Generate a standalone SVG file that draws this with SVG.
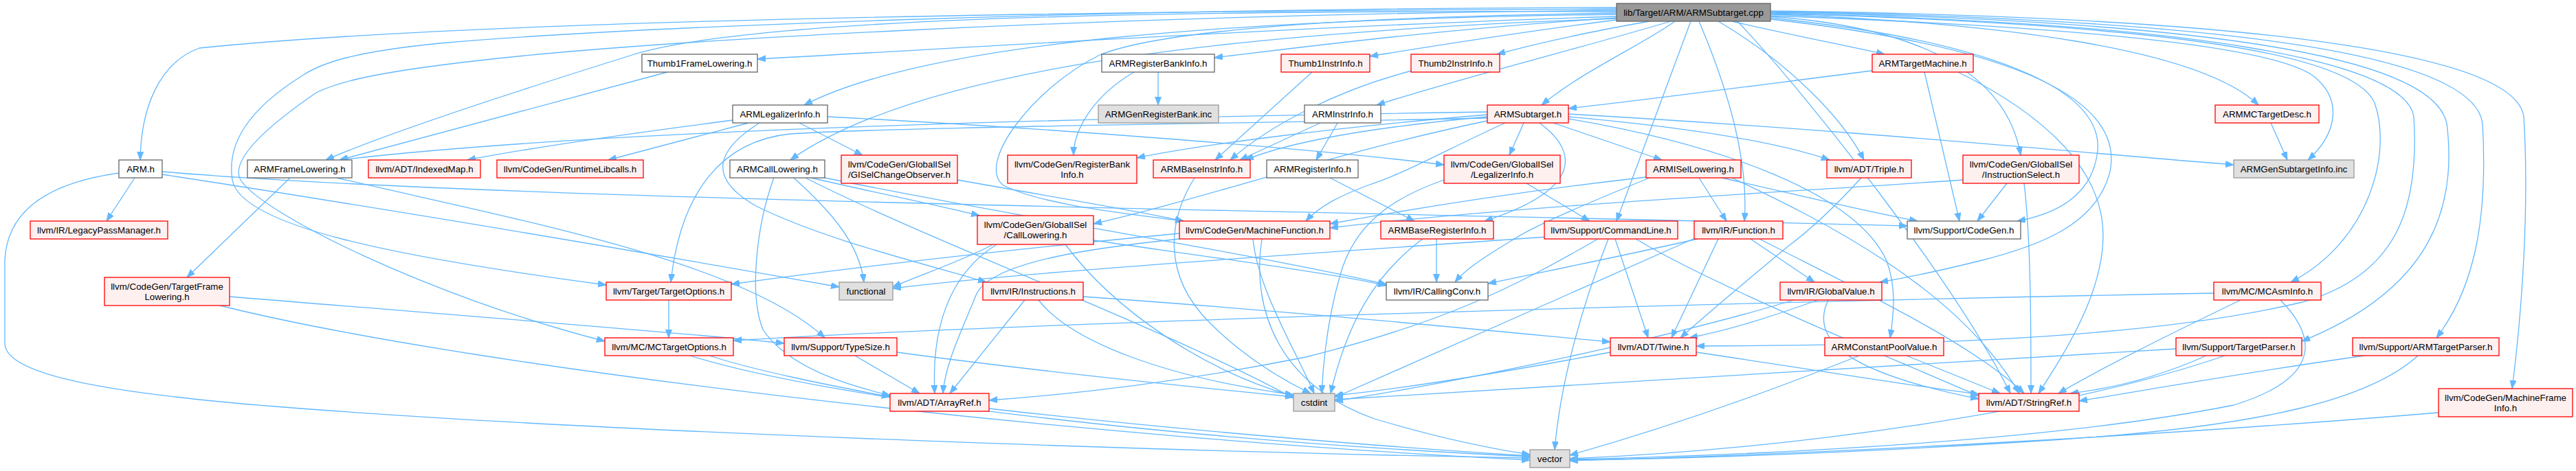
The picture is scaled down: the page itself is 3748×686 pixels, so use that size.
<svg xmlns="http://www.w3.org/2000/svg" width="3748" height="686" viewBox="0 0 3748 686">
<defs>
<style>
text{font-family:"Liberation Sans",Arial,Helvetica,sans-serif;font-size:13.33px;text-anchor:middle;fill:#000}
.w{fill:#fff;stroke:#666;stroke-width:1.3}
.r{fill:#fff0f0;stroke:#ff0000;stroke-width:1.3}
.g{fill:#e0e0e0;stroke:#999;stroke-width:1.3}
.m{fill:#999;stroke:#666;stroke-width:1.3}
#edges path{fill:none;stroke:#63b8ff;stroke-width:1.3;marker-end:url(#ah)}
</style>
<marker id="ah" markerWidth="13" markerHeight="10" refX="12" refY="4.5" orient="auto" markerUnits="userSpaceOnUse"><path d="M0,0 L12,4.5 L0,9 z" fill="#63b8ff" stroke="#63b8ff" stroke-width="1"/></marker>
</defs>
<rect width="3748" height="686" fill="#fff"/>
<g id="edges">
<path d="M2352,13 C1600,16 700,28 290,70 C230,92 205,160 204,233"/>
<path d="M2352,24 C1900,38 1400,70 1102,86"/>
<path d="M2352,17 C1600,14 1080,30 920,80 C760,130 560,195 474,233"/>
<path d="M2352,21 C1800,28 1350,60 1170,153"/>
<path d="M2352,27 C1850,45 1350,90 1150,233"/>
<path d="M2352,26 C2100,42 1900,68 1767,84"/>
<path d="M2352,29 C2200,48 2080,68 1993,82"/>
<path d="M2400,31 C2320,45 2240,62 2178,79"/>
<path d="M2431,31 C2300,70 2120,115 2003,153"/>
<path d="M2437,31 C2390,65 2300,105 2243,153"/>
<path d="M2460,31 L2352,322"/>
<path d="M2472,31 C2510,120 2545,230 2538,322"/>
<path d="M2500,31 C2600,90 2680,170 2712,233"/>
<path d="M2520,31 C2600,50 2680,65 2742,79"/>
<path d="M2576,24 C2800,40 2920,110 2940,226"/>
<path d="M2576,21 C2900,32 3200,70 3286,153"/>
<path d="M2576,23 C3000,38 3300,65 3365,110 C3410,145 3400,195 3358,233"/>
<path d="M2576,19 C3100,35 3420,70 3455,150 C3480,220 3450,350 3333,411"/>
<path d="M2576,18 C3200,30 3540,80 3560,180 C3575,300 3540,420 3349,497"/>
<path d="M2576,17 C3250,28 3600,80 3612,180 C3620,320 3600,420 3545,492"/>
<path d="M2576,16 C3300,25 3660,80 3672,170 C3680,300 3670,450 3655,566"/>
<path d="M2576,26 C2900,60 3060,130 3052,220 C3045,280 3000,310 2935,322"/>
<path d="M2528,31 C2640,150 2850,420 2925,573"/>
<path d="M2576,20 C3200,32 3500,90 3512,170 C3520,300 3490,400 3350,440 C3100,500 2700,503 2468,504"/>
<path d="M2576,28 C2950,70 3090,150 3070,250 C3050,330 2960,360 2880,380 C2820,395 2770,405 2735,411"/>
<path d="M2352,15 C1600,22 900,60 640,95 C540,108 490,120 460,135 C380,190 335,235 350,262 C380,310 620,430 880,497"/>
<path d="M2352,11 C1600,12 900,40 640,63 C520,75 470,90 440,110 C360,160 330,210 338,262 C350,330 580,375 882,415"/>
<path d="M2352,19 C2000,24 1700,40 1600,80 C1500,130 1420,240 1460,270 C1520,300 1650,312 1722,322"/>
<path d="M196,259 L155,322"/>
<path d="M173,252 C80,265 10,300 7,380 L7,500 C7,545 150,572 400,592 C900,632 1800,660 2226,667"/>
<path d="M236,254 C600,310 950,370 1221,418"/>
<path d="M236,250 C700,290 1800,305 2775,329"/>
<path d="M422,259 L272,404"/>
<path d="M490,259 C750,320 1080,380 1200,492"/>
<path d="M334,432 C700,462 1000,485 1141,500"/>
<path d="M320,445 C700,540 1600,640 2226,670"/>
<path d="M971,105 L494,233"/>
<path d="M1066,175 C950,190 800,210 680,233"/>
<path d="M1089,179 L885,233"/>
<path d="M1163,179 L1255,226"/>
<path d="M1204,170 C1500,185 1900,215 2101,240"/>
<path d="M1105,179 C1040,220 1030,260 1100,300 C1200,350 1350,385 1435,411"/>
<path d="M1126,259 C1100,330 1090,430 1110,480 C1150,540 1250,565 1295,576"/>
<path d="M1155,259 C1200,300 1250,350 1257,411"/>
<path d="M1180,259 C1280,282 1360,298 1425,314"/>
<path d="M1195,258 C1500,320 1800,365 2017,414"/>
<path d="M1172,259 C1350,350 1700,480 1882,580"/>
<path d="M1393,262 C1550,290 1650,306 1722,322"/>
<path d="M1450,356 C1380,400 1355,480 1360,573"/>
<path d="M1445,356 C1400,380 1340,400 1299,418"/>
<path d="M1591,350 C1800,380 1950,400 2017,416"/>
<path d="M1550,356 C1620,450 1750,540 1882,577"/>
<path d="M1685,105 L1685,153"/>
<path d="M1650,105 C1590,140 1562,190 1562,226"/>
<path d="M1738,259 C1700,320 1690,400 1760,470 C1820,530 1880,560 1907,573"/>
<path d="M1909,105 L1768,233"/>
<path d="M2054,103 C1950,130 1850,180 1790,233"/>
<path d="M1921,179 L1804,233"/>
<path d="M1946,179 L1915,233"/>
<path d="M2164,170 C2000,185 1880,205 1812,233"/>
<path d="M1935,259 L2058,322"/>
<path d="M2217,179 L2196,226"/>
<path d="M2260,179 L2418,233"/>
<path d="M2240,179 C2295,220 2305,275 2160,322"/>
<path d="M2190,179 C2100,220 2050,250 1990,270 C1950,285 1920,300 1900,322"/>
<path d="M2164,176 C1950,220 1750,290 1591,326"/>
<path d="M2164,167 C1950,185 1750,210 1654,230"/>
<path d="M2164,163 C1700,170 900,185 494,233"/>
<path d="M2164,172 C1800,180 1300,185 1150,195 C1050,205 990,280 976,411"/>
<path d="M2282,170 C2450,185 2580,205 2662,233"/>
<path d="M2282,166 C2700,190 3000,220 3250,240"/>
<path d="M2282,173 C2500,210 2700,280 2745,380 C2760,420 2755,460 2750,492"/>
<path d="M2221,267 L2313,322"/>
<path d="M2101,262 C2020,290 1970,330 1950,400 C1930,470 1925,530 1923,573"/>
<path d="M2395,258 C2200,280 2050,305 1935,326"/>
<path d="M2472,259 L2512,322"/>
<path d="M2400,259 C2300,300 2230,330 2200,350 C2150,380 2130,395 2117,411"/>
<path d="M2505,259 C2600,280 2700,305 2790,322"/>
<path d="M2520,259 C2650,320 2850,420 2938,573"/>
<path d="M2350,348 L2398,492"/>
<path d="M2340,348 C2300,450 2270,560 2262,655"/>
<path d="M2325,348 C2200,420 2100,470 1900,520 C1700,560 1550,575 1439,583"/>
<path d="M2250,345 C1900,370 1500,395 1299,420"/>
<path d="M2380,348 C2500,420 2750,520 2879,577"/>
<path d="M2470,348 C2350,375 2250,395 2165,413"/>
<path d="M2500,348 L2432,492"/>
<path d="M2547,348 L2640,411"/>
<path d="M2560,348 C2700,420 2870,500 2945,573"/>
<path d="M2468,346 C2300,420 2100,510 1942,579"/>
<path d="M2645,437 C2580,460 2520,480 2458,492"/>
<path d="M2660,437 C2630,500 2700,545 2879,581"/>
<path d="M2610,437 C2400,500 2100,560 1942,584"/>
<path d="M2468,513 C2650,540 2800,565 2879,574"/>
<path d="M2343,513 C2200,540 2050,565 1942,576"/>
<path d="M2708,259 C2680,290 2640,330 2600,360 C2540,410 2480,460 2445,492"/>
<path d="M2774,518 L2910,573"/>
<path d="M2705,518 C2550,580 2400,630 2284,663"/>
<path d="M2724,103 C2550,125 2400,145 2282,158"/>
<path d="M2800,105 L2851,322"/>
<path d="M2849,105 C2980,170 3060,250 3060,343 C3060,430 3000,520 2966,573"/>
<path d="M2920,267 L2877,322"/>
<path d="M2945,267 C2955,350 2955,480 2955,573"/>
<path d="M2856,262 C2600,280 2200,300 1935,332"/>
<path d="M3221,427 C2500,440 1500,470 1067,496"/>
<path d="M3260,437 C3150,490 3050,540 2995,573"/>
<path d="M3318,437 C3370,490 3380,550 3250,590 C3000,640 2600,662 2284,669"/>
<path d="M3210,518 C3150,545 3080,565 3012,573"/>
<path d="M3237,518 C3000,600 2600,655 2284,668"/>
<path d="M3166,508 C2800,530 2300,560 1942,582"/>
<path d="M3440,518 C3250,545 3100,572 3025,584"/>
<path d="M3518,518 C3450,580 3300,620 3000,640 C2700,660 2450,668 2284,670"/>
<path d="M3548,601 C3200,630 2700,660 2284,671"/>
<path d="M1716,348 C1600,360 1440,380 1420,430 C1400,480 1375,530 1372,573"/>
<path d="M1716,340 C1400,370 1200,395 1064,414"/>
<path d="M1823,348 C1830,420 1880,500 1912,573"/>
<path d="M1836,348 C1820,450 1860,560 2000,610 C2100,640 2180,655 2226,662"/>
<path d="M1491,437 L1382,573"/>
<path d="M1576,432 C1900,455 2150,480 2343,498"/>
<path d="M1511,437 C1560,500 1700,550 1882,575"/>
<path d="M1244,518 L1338,573"/>
<path d="M1305,513 C1500,540 1750,565 1882,578"/>
<path d="M1032,518 C1100,540 1200,560 1295,578"/>
<path d="M1004,518 C1200,580 1700,640 2226,665"/>
<path d="M973,437 L973,492"/>
<path d="M1439,595 C1700,625 2000,650 2226,664"/>
<path d="M2090,348 L2090,411"/>
<path d="M2070,348 C2000,400 1960,470 1936,573"/>
<path d="M3304,179 L3328,233"/>
</g>
<g id="n_main"><rect class="m" x="2352" y="5" width="224" height="26"/><text x="2464" y="22.5">lib/Target/ARM/ARMSubtarget.cpp</text></g>
<g id="n_thumb1fl"><rect class="w" x="934" y="79" width="168" height="26"/><text x="1018" y="96.5">Thumb1FrameLowering.h</text></g>
<g id="n_armrbi"><rect class="w" x="1603" y="79" width="164" height="26"/><text x="1685" y="96.5">ARMRegisterBankInfo.h</text></g>
<g id="n_thumb1ii"><rect class="r" x="1864" y="79" width="129" height="26"/><text x="1928.5" y="96.5">Thumb1InstrInfo.h</text></g>
<g id="n_thumb2ii"><rect class="r" x="2053" y="79" width="129" height="26"/><text x="2117.5" y="96.5">Thumb2InstrInfo.h</text></g>
<g id="n_armtm"><rect class="r" x="2724" y="79" width="147" height="26"/><text x="2797.5" y="96.5">ARMTargetMachine.h</text></g>
<g id="n_armli"><rect class="w" x="1066" y="153" width="138" height="26"/><text x="1135" y="170.5">ARMLegalizerInfo.h</text></g>
<g id="n_genrb"><rect class="g" x="1598" y="153" width="175" height="26"/><text x="1685.5" y="170.5">ARMGenRegisterBank.inc</text></g>
<g id="n_armii"><rect class="w" x="1898" y="153" width="111" height="26"/><text x="1953.5" y="170.5">ARMInstrInfo.h</text></g>
<g id="n_armst"><rect class="r" x="2164" y="153" width="118" height="26"/><text x="2223" y="170.5">ARMSubtarget.h</text></g>
<g id="n_mctd"><rect class="r" x="3223" y="153" width="151" height="26"/><text x="3298.5" y="170.5">ARMMCTargetDesc.h</text></g>
<g id="n_arm"><rect class="w" x="173" y="233" width="63" height="26"/><text x="204.5" y="250.5">ARM.h</text></g>
<g id="n_armfl"><rect class="w" x="360" y="233" width="152" height="26"/><text x="436" y="250.5">ARMFrameLowering.h</text></g>
<g id="n_imap"><rect class="r" x="536" y="233" width="163" height="26"/><text x="617.5" y="250.5">llvm/ADT/IndexedMap.h</text></g>
<g id="n_rtlib"><rect class="r" x="723" y="233" width="213" height="26"/><text x="829.5" y="250.5">llvm/CodeGen/RuntimeLibcalls.h</text></g>
<g id="n_armcl"><rect class="w" x="1062" y="233" width="138" height="26"/><text x="1131" y="250.5">ARMCallLowering.h</text></g>
<g id="n_gisco"><rect class="r" x="1224" y="226" width="169" height="41"/><text x="1308.5" y="243.5">llvm/CodeGen/GlobalISel</text><text x="1308.5" y="258.5">/GISelChangeObserver.h</text></g>
<g id="n_rbi"><rect class="r" x="1466" y="226" width="188" height="41"/><text x="1560" y="243.5">llvm/CodeGen/RegisterBank</text><text x="1560" y="258.5">Info.h</text></g>
<g id="n_armbii"><rect class="r" x="1678" y="233" width="141" height="26"/><text x="1748.5" y="250.5">ARMBaseInstrInfo.h</text></g>
<g id="n_armri"><rect class="w" x="1843" y="233" width="133" height="26"/><text x="1909.5" y="250.5">ARMRegisterInfo.h</text></g>
<g id="n_li"><rect class="r" x="2101" y="226" width="169" height="41"/><text x="2185.5" y="243.5">llvm/CodeGen/GlobalISel</text><text x="2185.5" y="258.5">/LegalizerInfo.h</text></g>
<g id="n_armisl"><rect class="r" x="2395" y="233" width="138" height="26"/><text x="2464" y="250.5">ARMISelLowering.h</text></g>
<g id="n_triple"><rect class="r" x="2658" y="233" width="123" height="26"/><text x="2719.5" y="250.5">llvm/ADT/Triple.h</text></g>
<g id="n_isel"><rect class="r" x="2856" y="226" width="169" height="41"/><text x="2940.5" y="243.5">llvm/CodeGen/GlobalISel</text><text x="2940.5" y="258.5">/InstructionSelect.h</text></g>
<g id="n_gensti"><rect class="g" x="3250" y="233" width="175" height="26"/><text x="3337.5" y="250.5">ARMGenSubtargetInfo.inc</text></g>
<g id="n_lpm"><rect class="r" x="44" y="322" width="200" height="26"/><text x="144" y="339.5">llvm/IR/LegacyPassManager.h</text></g>
<g id="n_cl"><rect class="r" x="1422" y="314" width="169" height="42"/><text x="1506.5" y="331.5">llvm/CodeGen/GlobalISel</text><text x="1506.5" y="346.5">/CallLowering.h</text></g>
<g id="n_mf"><rect class="r" x="1716" y="322" width="219" height="26"/><text x="1825.5" y="339.5">llvm/CodeGen/MachineFunction.h</text></g>
<g id="n_armbri"><rect class="r" x="2009" y="322" width="164" height="26"/><text x="2091" y="339.5">ARMBaseRegisterInfo.h</text></g>
<g id="n_cmdl"><rect class="r" x="2247" y="322" width="194" height="26"/><text x="2344" y="339.5">llvm/Support/CommandLine.h</text></g>
<g id="n_func"><rect class="r" x="2465" y="322" width="129" height="26"/><text x="2529.5" y="339.5">llvm/IR/Function.h</text></g>
<g id="n_cg"><rect class="w" x="2775" y="322" width="165" height="26"/><text x="2857.5" y="339.5">llvm/Support/CodeGen.h</text></g>
<g id="n_tfl"><rect class="r" x="152" y="404" width="182" height="41"/><text x="243" y="421.5">llvm/CodeGen/TargetFrame</text><text x="243" y="436.5">Lowering.h</text></g>
<g id="n_topt"><rect class="r" x="882" y="411" width="182" height="26"/><text x="973" y="428.5">llvm/Target/TargetOptions.h</text></g>
<g id="n_functional"><rect class="g" x="1221" y="411" width="78" height="26"/><text x="1260" y="428.5">functional</text></g>
<g id="n_instr"><rect class="r" x="1430" y="411" width="146" height="26"/><text x="1503" y="428.5">llvm/IR/Instructions.h</text></g>
<g id="n_cc"><rect class="w" x="2017" y="411" width="148" height="26"/><text x="2091" y="428.5">llvm/IR/CallingConv.h</text></g>
<g id="n_gv"><rect class="r" x="2590" y="411" width="148" height="26"/><text x="2664" y="428.5">llvm/IR/GlobalValue.h</text></g>
<g id="n_mcai"><rect class="r" x="3221" y="411" width="156" height="26"/><text x="3299" y="428.5">llvm/MC/MCAsmInfo.h</text></g>
<g id="n_mcto"><rect class="r" x="880" y="492" width="187" height="26"/><text x="973.5" y="509.5">llvm/MC/MCTargetOptions.h</text></g>
<g id="n_ts"><rect class="r" x="1141" y="492" width="164" height="26"/><text x="1223" y="509.5">llvm/Support/TypeSize.h</text></g>
<g id="n_twine"><rect class="r" x="2343" y="492" width="125" height="26"/><text x="2405.5" y="509.5">llvm/ADT/Twine.h</text></g>
<g id="n_cpv"><rect class="r" x="2655" y="492" width="173" height="26"/><text x="2741.5" y="509.5">ARMConstantPoolValue.h</text></g>
<g id="n_tp"><rect class="r" x="3166" y="492" width="183" height="26"/><text x="3257.5" y="509.5">llvm/Support/TargetParser.h</text></g>
<g id="n_armtp"><rect class="r" x="3423" y="492" width="213" height="26"/><text x="3529.5" y="509.5">llvm/Support/ARMTargetParser.h</text></g>
<g id="n_aref"><rect class="r" x="1295" y="573" width="144" height="26"/><text x="1367" y="590.5">llvm/ADT/ArrayRef.h</text></g>
<g id="n_cstdint"><rect class="g" x="1882" y="573" width="60" height="26"/><text x="1912" y="590.5">cstdint</text></g>
<g id="n_sref"><rect class="r" x="2879" y="573" width="146" height="26"/><text x="2952" y="590.5">llvm/ADT/StringRef.h</text></g>
<g id="n_mfi"><rect class="r" x="3548" y="566" width="195" height="41"/><text x="3645.5" y="583.5">llvm/CodeGen/MachineFrame</text><text x="3645.5" y="598.5">Info.h</text></g>
<g id="n_vector"><rect class="g" x="2226" y="655" width="58" height="26"/><text x="2255" y="672.5">vector</text></g>
</svg>
